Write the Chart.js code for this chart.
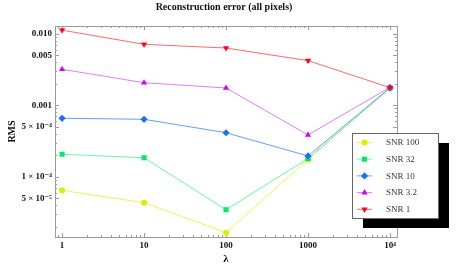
<!DOCTYPE html>
<html>
<head>
<meta charset="utf-8">
<script src="https://cdn.jsdelivr.net/npm/chart.js@4"></script>
<style>
  html, body { margin: 0; padding: 0; background: #fff; }
</style>
</head>
<body>
<canvas id="errChart" width="458" height="274"></canvas>
<script>
// values
let lambdas = [1, 10, 100, 1000, 10000];
let snrLabels = ['SNR 100', 'SNR 32', 'SNR 10', 'SNR 3.2', 'SNR 1'];
let rmsSnr100 = [6.45e-5, 4.33e-5, 1.65e-5, 1.74e-4, 1.73e-3];
let rmsSnr32 = [2.06e-4, 1.84e-4, 3.45e-5, 1.79e-4, 1.74e-3];
let rmsSnr10 = [6.56e-4, 6.35e-4, 4.12e-4, 1.95e-4, 1.75e-3];
let rmsSnr3_2 = [3.18e-3, 2.06e-3, 1.74e-3, 3.83e-4, 1.78e-3];
let rmsSnr1 = [1.12e-2, 7.1e-3, 6.3e-3, 4.2e-3, 1.76e-3];

let xTickVals = [1, 10, 100, 1000, 10000];
let xTickLabels = ['1', '10', '100', '1000', '10\u2074'];
let yTickVals = [0.01, 0.005, 0.001, 0.0005, 0.0001, 0.00005];
let yTickLabels = ['0.010', '0.005', '0.001', '5 \u00d7 10\u207b\u2074', '1 \u00d7 10\u207b\u2074', '5 \u00d7 10\u207b\u2075'];

let lineColors = ['rgb(232,245,90)', 'rgb(110,245,165)', 'rgb(95,160,255)', 'rgb(225,125,255)', 'rgb(255,105,105)'];
let markColors = ['rgb(215,240,0)', 'rgb(0,235,105)', 'rgb(25,110,255)', 'rgb(210,0,255)', 'rgb(255,0,30)'];
let markStyles = ['circle', 'rect', 'rectRot', 'triangle', 'triangle'];
let markRot = [0, 0, 0, 0, 180];
let markRad = [3, 3.6, 3.6, 3.6, 3.6];

let allRms = [rmsSnr100, rmsSnr32, rmsSnr10, rmsSnr3_2, rmsSnr1];
let serif = '"Liberation Serif", "DejaVu Serif", serif';
let frameColor = '#9a9a9a';

let datasets = [];
for (let i = 0; i < snrLabels.length; i++) {
  datasets.push({
    label: snrLabels[i],
    data: lambdas.map((l, j) => ({x: l, y: allRms[i][j]})),
    borderColor: lineColors[i],
    borderWidth: 1,
    backgroundColor: markColors[i],
    pointBackgroundColor: markColors[i],
    pointBorderWidth: 0,
    pointStyle: markStyles[i],
    pointRotation: markRot[i],
    pointRadius: markRad[i],
    order: snrLabels.length - i, // later series drawn on top
    tension: 0
  });
}

// frame with inward ticks on all four sides (Mathematica style)
const frameTicks = {
  id: 'frameTicks',
  beforeDatasetsDraw(chart) {
    const {ctx, chartArea: a, scales} = chart;
    ctx.save();
    ctx.strokeStyle = frameColor;
    ctx.lineWidth = 1;
    ctx.strokeRect(Math.round(a.left) + 0.5, Math.round(a.top) + 0.5, Math.round(a.right - a.left), Math.round(a.bottom - a.top));
    ctx.beginPath();
    for (let e = -1; e <= 4; e++) {
      for (let m = 1; m <= 9; m++) {
        let v = m * Math.pow(10, e);
        if (v < scales.x.min || v > scales.x.max) continue;
        let px = Math.round(scales.x.getPixelForValue(v)) + 0.5;
        let len = m === 1 ? 4 : 2;
        ctx.moveTo(px, a.bottom); ctx.lineTo(px, a.bottom - len);
        ctx.moveTo(px, a.top); ctx.lineTo(px, a.top + len);
      }
    }
    for (let e = -6; e <= -1; e++) {
      for (let m = 1; m <= 9; m++) {
        let v = m * Math.pow(10, e);
        if (v < scales.y.min || v > scales.y.max) continue;
        let py = Math.round(scales.y.getPixelForValue(v)) + 0.5;
        let len = (m === 1 || m === 5) ? 4 : 2;
        ctx.moveTo(a.left, py); ctx.lineTo(a.left + len, py);
        ctx.moveTo(a.right, py); ctx.lineTo(a.right - len, py);
      }
    }
    ctx.stroke();
    ctx.restore();
  },
  afterDraw(chart) {
    const ctx = chart.ctx;
    ctx.save();
    // title
    ctx.fillStyle = '#111';
    ctx.font = 'bold 10px ' + serif;
    ctx.textAlign = 'center';
    ctx.textBaseline = 'middle';
    ctx.fillText('Reconstruction error (all pixels)', 224, 7.5);
    // legend with drop shadow
    let bx = 352, by = 133, bw = 86, bh = 85;
    ctx.fillStyle = '#000';
    ctx.fillRect(bx + 11, by + 10, bw, bh);
    ctx.fillStyle = '#fff';
    ctx.fillRect(bx, by, bw, bh);
    ctx.strokeStyle = '#666';
    ctx.lineWidth = 1;
    ctx.strokeRect(bx + 0.5, by + 0.5, bw, bh);
    ctx.font = '9px ' + serif;
    ctx.textAlign = 'left';
    chart.data.datasets.forEach((ds, i) => {
      let ry = by + 9.5 + i * 16.7;
      ctx.strokeStyle = ds.borderColor;
      ctx.beginPath();
      ctx.moveTo(bx + 5, ry); ctx.lineTo(bx + 20, ry);
      ctx.stroke();
      ctx.fillStyle = ds.pointBackgroundColor;
      Chart.helpers.drawPoint(ctx, {pointStyle: ds.pointStyle, rotation: ds.pointRotation, radius: ds.pointRadius, borderWidth: 0}, bx + 12.5, ry);
      ctx.fillStyle = '#333';
      ctx.fillText(ds.label, bx + 34, ry + 0.5);
    });
    ctx.restore();
  }
};

const ctx = document.getElementById('errChart');
new Chart(ctx, {
  type: 'line',
  data: {datasets: datasets},
  options: {
    responsive: false,
    animation: false,
    devicePixelRatio: 1,
    layout: {padding: {top: 26, right: 61, left: 0, bottom: 0}},
    plugins: {legend: {display: false}, tooltip: {enabled: false}, title: {display: false}},
    scales: {
      x: {
        type: 'logarithmic',
        min: 0.82,
        max: 12170,
        afterFit(s) { s.height = 37; },
        afterBuildTicks(s) { s.ticks = xTickVals.map(v => ({value: v})); },
        grid: {display: false, drawTicks: false},
        border: {display: false},
        ticks: {
          autoSkip: false, maxRotation: 0, padding: 3, color: '#111',
          font: {family: serif, size: 9, weight: 'bold'},
          callback: (v) => xTickLabels[xTickVals.indexOf(v)]
        },
        title: {display: true, text: '\u03bb', color: '#111', font: {family: serif, size: 11, weight: 'bold'}, padding: {top: 0, bottom: 8}}
      },
      y: {
        type: 'logarithmic',
        min: 1.435e-5,
        max: 0.0128,
        afterFit(s) { s.width = 55; },
        afterBuildTicks(s) { s.ticks = yTickVals.map(v => ({value: v})); },
        grid: {display: false, drawTicks: false},
        border: {display: false},
        ticks: {
          autoSkip: false, padding: 3, color: '#111',
          font: {family: serif, size: 9, weight: 'bold'},
          callback: (v) => yTickLabels[yTickVals.indexOf(v)]
        },
        title: {display: true, text: 'RMS', color: '#111', font: {family: serif, size: 10, weight: 'bold'}, padding: {top: 6, bottom: 0}}
      }
    }
  },
  plugins: [frameTicks]
});
</script>
</body>
</html>
